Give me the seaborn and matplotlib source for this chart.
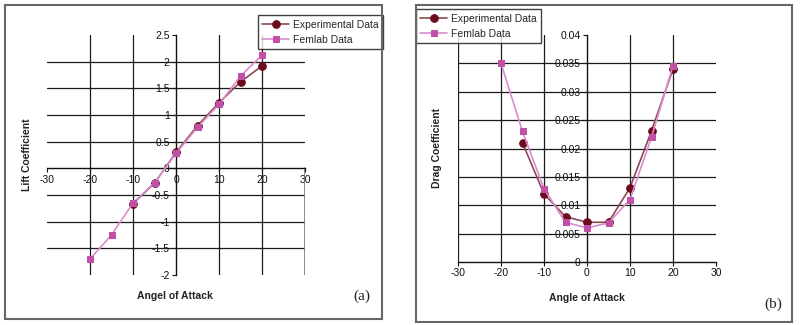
import numpy as np
import matplotlib
matplotlib.use("Agg")
import matplotlib.pyplot as plt
from matplotlib.patches import Rectangle
import seaborn as sns

# Lift coefficient (panel a)
lift_exp_angle = [-10, -5, 0, 5, 10, 15, 20]
lift_exp = [-0.66, -0.28, 0.30, 0.80, 1.23, 1.62, 1.92]
lift_fem_angle = [-20, -15, -10, -5, 0, 5, 10, 15, 20]
lift_fem = [-1.70, -1.25, -0.65, -0.27, 0.28, 0.77, 1.20, 1.73, 2.12]

# Drag coefficient (panel b)
drag_exp_angle = [-15, -10, -5, 0, 5, 10, 15, 20]
drag_exp = [0.021, 0.012, 0.008, 0.007, 0.007, 0.0131, 0.0231, 0.034]
drag_fem_angle = [-20, -15, -10, -5, 0, 5, 10, 15, 20]
drag_fem = [0.035, 0.023, 0.0129, 0.007, 0.006, 0.0069, 0.011, 0.022, 0.0346]

x_ticks = [-30, -20, -10, 0, 10, 20, 30]
lift_ticks = [-2, -1.5, -1, -0.5, 0, 0.5, 1, 1.5, 2, 2.5]
lift_labels = ["-2", "-1.5", "-1", "-0.5", "0", "0.5", "1", "1.5", "2", "2.5"]
drag_ticks = [0, 0.005, 0.01, 0.015, 0.02, 0.025, 0.03, 0.035, 0.04]
drag_labels = ["0", "0.005", "0.01", "0.015", "0.02", "0.025", "0.03", "0.035", "0.04"]

sns.set_style("white")
plt.rcParams['font.family'] = ['Liberation Sans', 'DejaVu Sans']
plt.rcParams['axes.unicode_minus'] = False

exp_line, exp_mark = "#8a4a52", "#6a0c1c"
fem_line, fem_mark = "#dc8ccc", "#c050a8"
grid_c = "#1a1a1a"

fig = plt.figure(figsize=(8, 3.25), dpi=100)
ax_a = fig.add_axes([0.05875, 0.1538, 0.3225, 0.7385])
ax_b = fig.add_axes([0.5725, 0.1938, 0.3225, 0.6985])


def draw_series(ax, xe, ye, xf, yf):
    sns.lineplot(x=xe, y=ye, ax=ax, color=exp_line, lw=1.2, marker="o", markersize=5.5,
                 markerfacecolor=exp_mark, markeredgecolor=exp_mark, label="Experimental Data",
                 zorder=4)
    sns.lineplot(x=xf, y=yf, ax=ax, color=fem_line, lw=1.2, marker="s", markersize=4.5,
                 markerfacecolor=fem_mark, markeredgecolor=fem_mark, label="Femlab Data",
                 zorder=5)


def style_axis(ax, yticks, ylabels):
    ax.set_xlim(-30, 30)
    ax.set_ylim(yticks[0], yticks[-1])
    ax.set_xticks(x_ticks)
    ax.set_yticks(yticks)
    ax.set_xticklabels([str(t) for t in x_ticks])
    ax.set_yticklabels(ylabels)
    for s in ["top", "right"]:
        ax.spines[s].set_visible(False)
    for s in ["left", "bottom"]:
        ax.spines[s].set_color("#111")
        ax.spines[s].set_linewidth(1.0)
    ax.spines["left"].set_position(("data", 0))
    ax.tick_params(axis="both", direction="out", length=3, width=0.8, labelsize=7.5,
                   colors="#111", pad=1.5, left=True, bottom=True)
    # gridlines
    for y in yticks[1:-1]:
        if y != 0:
            ax.axhline(y, color=grid_c, lw=0.9, zorder=1)
    for x in [-20, -10, 10, 20]:
        ax.axvline(x, color=grid_c, lw=0.9, zorder=1)
    ax.set_xlabel("")
    ax.set_ylabel("")


draw_series(ax_a, lift_exp_angle, lift_exp, lift_fem_angle, lift_fem)
style_axis(ax_a, lift_ticks, lift_labels)
ax_a.spines["bottom"].set_position(("data", 0))
ax_a.axvline(30, ymin=0, ymax=2 / 4.5, color="#777", lw=1.2, zorder=1)

draw_series(ax_b, drag_exp_angle, drag_exp, drag_fem_angle, drag_fem)
style_axis(ax_b, drag_ticks, drag_labels)
ax_b.axvline(-30, color=grid_c, lw=0.9, zorder=1)

# axis titles
fig.text(27 / 800, 1 - 155 / 325, "Lift Coefficient", rotation=90, ha="center", va="center",
         fontsize=7.5, fontweight="bold", color="#222")
fig.text(175 / 800, 1 - 296 / 325, "Angel of Attack", ha="center", va="center",
         fontsize=7.5, fontweight="bold", color="#222")
fig.text(437 / 800, 1 - 148 / 325, "Drag Coefficient", rotation=90, ha="center", va="center",
         fontsize=7.5, fontweight="bold", color="#222")
fig.text(587 / 800, 1 - 298 / 325, "Angle of Attack", ha="center", va="center",
         fontsize=7.5, fontweight="bold", color="#222")

# panel letters
fig.text(362 / 800, 1 - 296 / 325, "(a)", ha="center", va="center", fontsize=11,
         family="Liberation Serif")
fig.text(773 / 800, 1 - 304 / 325, "(b)", ha="center", va="center", fontsize=11,
         family="Liberation Serif")

# legends
for ax, loc in [(ax_a, (258 / 800, 1 - 49 / 325)), (ax_b, (416 / 800, 1 - 43 / 325))]:
    leg = ax.legend(loc="lower left", bbox_to_anchor=loc, bbox_transform=fig.transFigure,
                    fontsize=7.5, frameon=True, fancybox=False, borderpad=0.4,
                    handlelength=2.6, handletextpad=0.4, labelspacing=0.5, borderaxespad=0)
    leg.get_frame().set_edgecolor("#111")
    leg.get_frame().set_linewidth(1.0)
    leg.set_zorder(10)

# panel frames
fig.add_artist(Rectangle((5 / 800, 1 - 319 / 325), 377 / 800, 314 / 325, transform=fig.transFigure,
                         fill=False, edgecolor="#666", lw=1.5))
fig.add_artist(Rectangle((416 / 800, 1 - 322 / 325), 376 / 800, 317 / 325, transform=fig.transFigure,
                         fill=False, edgecolor="#666", lw=1.5))

fig.savefig("out.png", dpi=100)
